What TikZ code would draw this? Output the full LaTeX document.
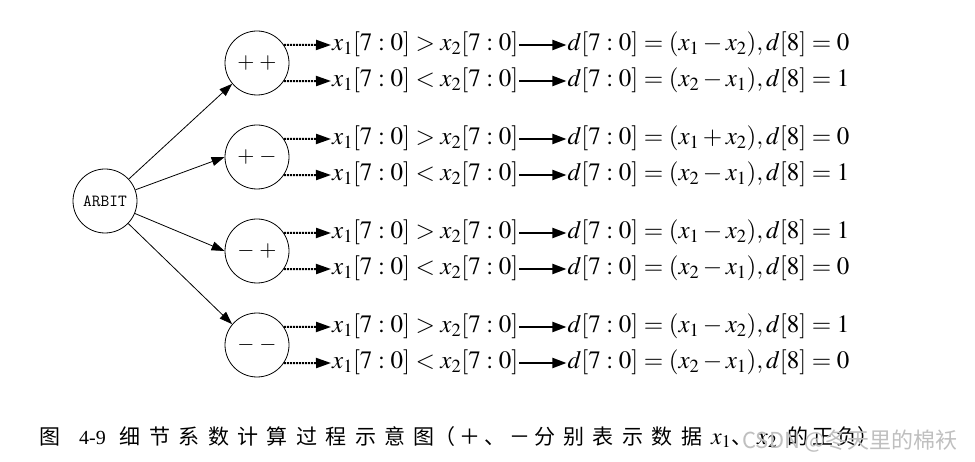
\documentclass[tikz,border=0pt]{standalone}
\usepackage{mathptmx}
\usepackage[no-math]{fontspec}
\setmainfont{Liberation Serif}
\newfontfamily\cjk[LetterSpace=40]{Noto Sans CJK SC}
\newfontfamily\cjkb[LetterSpace=18]{Noto Sans CJK SC}
\newfontfamily\cjkmark{Noto Sans CJK SC}
\usetikzlibrary{positioning,arrows.meta}
\begin{document}
\begin{tikzpicture}[x=1pt,y=-1pt,node distance=47pt, sgn/.style={draw,circle,line width=0.8pt,minimum size=64pt,inner sep=0pt,font=\fontsize{22}{22}\selectfont}, cmpbox/.style={anchor=west,inner sep=1pt,text height=17pt,text depth=6pt,font=\fontsize{25}{25}\selectfont}, resbox/.style={cmpbox}, arr/.style={-{Triangle[length=13pt,width=9pt]},line width=0.8pt}, darr/.style={-{Triangle[length=15pt,width=10pt]},line width=2pt,densely dotted}, sarr/.style={-{Triangle[length=14pt,width=10pt]},line width=2pt}]
\useasboundingbox (0,0) rectangle (975,462);
\node[sgn] (arb) at (105,201) {\ttfamily\fontsize{17}{17}\selectfont ARBIT};
\node[sgn] (pp) at (257,63) {$+\;+$};
\node[sgn] (pm) at (257,157) {$+\;-$};
\node[sgn] (mp) at (257,251) {$-\;+$};
\node[sgn] (mm) at (257,345) {$-\;-$};
% comparisons and results
\node[cmpbox] (c1) at (331,45) {$x_1[7:0]>x_2[7:0]$};
\node[resbox,right=of c1] (r1) {$d[7:0]=(x_1-x_2),d[8]=0$};
\node[cmpbox] (c2) at (331,81) {$x_1[7:0]<x_2[7:0]$};
\node[resbox,right=of c2] (r2) {$d[7:0]=(x_2-x_1),d[8]=1$};
\node[cmpbox] (c3) at (331,139) {$x_1[7:0]>x_2[7:0]$};
\node[resbox,right=of c3] (r3) {$d[7:0]=(x_1+x_2),d[8]=0$};
\node[cmpbox] (c4) at (331,175) {$x_1[7:0]<x_2[7:0]$};
\node[resbox,right=of c4] (r4) {$d[7:0]=(x_2-x_1),d[8]=1$};
\node[cmpbox] (c5) at (331,233) {$x_1[7:0]>x_2[7:0]$};
\node[resbox,right=of c5] (r5) {$d[7:0]=(x_1-x_2),d[8]=1$};
\node[cmpbox] (c6) at (331,269) {$x_1[7:0]<x_2[7:0]$};
\node[resbox,right=of c6] (r6) {$d[7:0]=(x_2-x_1),d[8]=0$};
\node[cmpbox] (c7) at (331,327) {$x_1[7:0]>x_2[7:0]$};
\node[resbox,right=of c7] (r7) {$d[7:0]=(x_1-x_2),d[8]=1$};
\node[cmpbox] (c8) at (331,363) {$x_1[7:0]<x_2[7:0]$};
\node[resbox,right=of c8] (r8) {$d[7:0]=(x_2-x_1),d[8]=0$};
% caption
\node[anchor=west,inner sep=0pt,font=\fontsize{21}{21}\selectfont] (cap) at (39,437) {{\cjkmark 图}\hspace{19pt}{\rmfamily\fontsize{20}{20}\selectfont 4-9}\hspace{14pt}{\cjk 细节系数计算过程示意图}{\cjkb （＋、－}\hspace{4pt}{\cjk 分别表示数据}\hspace{9pt}{\fontsize{24}{24}\selectfont$x_1$}{\cjkmark 、}\hspace{5pt}{\fontsize{24}{24}\selectfont$x_2$}\hspace{10pt}{\cjkb 的正负}{\cjkmark ）}};
\node[anchor=east,inner sep=0pt,text=black!25,font=\cjkmark\fontsize{22}{22}\selectfont] (wm) at (958,441) {CSDN @冬天里的棉袄};
\draw[arr] (arb) -- (pp.220);
\draw[arr] (arb) -- (pm.west);
\draw[arr] (arb) -- (mp.west);
\draw[arr] (arb) -- (mm.140);
\draw[darr] (pp.34) -- (c1.west);
\draw[darr] (pp.-34) -- (c2.west);
\draw[darr] (pm.34) -- (c3.west);
\draw[darr] (pm.-34) -- (c4.west);
\draw[darr] (mp.34) -- (c5.west);
\draw[darr] (mp.-34) -- (c6.west);
\draw[darr] (mm.34) -- (c7.west);
\draw[darr] (mm.-34) -- (c8.west);
\draw[sarr] (c1) -- (r1);
\draw[sarr] (c2) -- (r2);
\draw[sarr] (c3) -- (r3);
\draw[sarr] (c4) -- (r4);
\draw[sarr] (c5) -- (r5);
\draw[sarr] (c6) -- (r6);
\draw[sarr] (c7) -- (r7);
\draw[sarr] (c8) -- (r8);
\end{tikzpicture}
\end{document}
